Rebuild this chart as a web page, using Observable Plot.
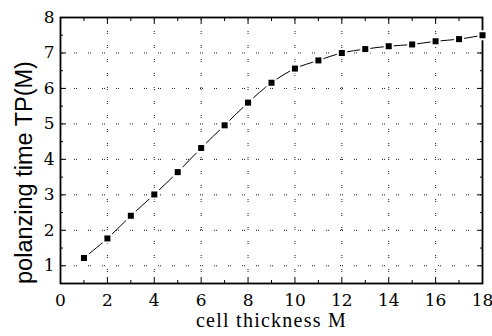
<!DOCTYPE html>
<html>
<head>
<meta charset="utf-8">
<script src="https://cdn.jsdelivr.net/npm/d3@7"></script>
<script src="https://cdn.jsdelivr.net/npm/@observablehq/plot@0.6"></script>
<style>
  html, body { margin: 0; padding: 0; background: #fff; }
  #chart { width: 492px; height: 336px; }
</style>
</head>
<body>
<div id="chart"></div>
<script>
// Polarizing time against cell thickness
const thickness = [1, 2, 3, 4, 5, 6, 7, 8, 9, 10, 11, 12, 13, 14, 15, 16, 17, 18];
const polTime = [1.22, 1.77, 2.41, 3.01, 3.64, 4.32, 4.96, 5.60, 6.16, 6.56, 6.79, 7.00, 7.11, 7.19, 7.24, 7.33, 7.39, 7.50];

const xMajor = [0, 2, 4, 6, 8, 10, 12, 14, 16, 18];
const xMinor = [1, 3, 5, 7, 9, 11, 13, 15, 17];
const yMajor = [1, 2, 3, 4, 5, 6, 7, 8];
const yMinor = [1.5, 2.5, 3.5, 4.5, 5.5, 6.5, 7.5];
const xGrid = [2, 4, 6, 8, 10, 12, 14, 16];
const yGrid = [1, 2, 3, 4, 5, 6, 7];

const xTitle = "cell thickness M";
const yTitle = "polanzing time TP(M)";

const points = thickness.map((x, i) => ({x, y: polTime[i]}));

const serif = "Liberation Serif";
const tickFont = "DejaVu Serif";
const sans = "Liberation Sans";
const dotted = "1,1,1,11";

const chart = Plot.plot({
  width: 492,
  height: 336,
  marginLeft: 60,
  marginRight: 10,
  marginTop: 17,
  marginBottom: 53,
  style: {background: "#fff", color: "#000"},
  x: {domain: [0, 18]},
  y: {domain: [0.5, 8]},
  marks: [
    // dotted grid
    Plot.gridX(xGrid, {stroke: "#000", strokeOpacity: 0.9, strokeDasharray: dotted}),
    Plot.gridY(yGrid, {stroke: "#000", strokeOpacity: 0.9, strokeDasharray: dotted}),

    // inward ticks on all four sides
    Plot.axisX(xMajor, {anchor: "bottom", tickSize: -6, fill: "none", label: null}),
    Plot.axisX(xMinor, {anchor: "bottom", tickSize: -3, fill: "none", label: null}),
    Plot.axisX(xMajor, {anchor: "top", tickSize: -6, fill: "none", label: null}),
    Plot.axisX(xMinor, {anchor: "top", tickSize: -3, fill: "none", label: null}),
    Plot.axisY(yMajor, {anchor: "left", tickSize: -6, fill: "none", label: null}),
    Plot.axisY(yMinor, {anchor: "left", tickSize: -3, fill: "none", label: null}),
    Plot.axisY(yMajor, {anchor: "right", tickSize: -6, fill: "none", label: null}),
    Plot.axisY(yMinor, {anchor: "right", tickSize: -3, fill: "none", label: null}),

    // tick labels
    Plot.axisX(xMajor, {anchor: "bottom", tickSize: 0, tickPadding: 10, fontSize: 17, fontFamily: tickFont, label: null}),
    Plot.axisY(yMajor, {anchor: "left", tickSize: 0, tickPadding: 6, fontSize: 17, fontFamily: tickFont, label: null}),

    Plot.frame({stroke: "#000", strokeWidth: 1.8}),

    // data curve and markers
    Plot.line(points, {x: "x", y: "y", curve: "catmull-rom", stroke: "#000", strokeWidth: 1}),
    Plot.dot(points, {x: "x", y: "y", symbol: "square", r: 3.4, fill: "#000", stroke: "#fff", strokeWidth: 4, paintOrder: "stroke"}),

    // axis titles
    Plot.text([xTitle], {frameAnchor: "bottom", textAnchor: "middle", lineAnchor: "middle", dy: 37, fontSize: 20, fontFamily: serif, fill: "#000"}),
    Plot.text([yTitle], {frameAnchor: "left", textAnchor: "middle", lineAnchor: "middle", dx: -36, dy: 22, rotate: -90, fontSize: 23.5, fontFamily: sans, fill: "#000"})
  ]
});

// a little tracking on the x title
d3.select(chart).selectAll("text")
  .filter(function () { return this.textContent === xTitle; })
  .attr("letter-spacing", "1.25");
document.getElementById("chart").appendChild(chart);
</script>
</body>
</html>
